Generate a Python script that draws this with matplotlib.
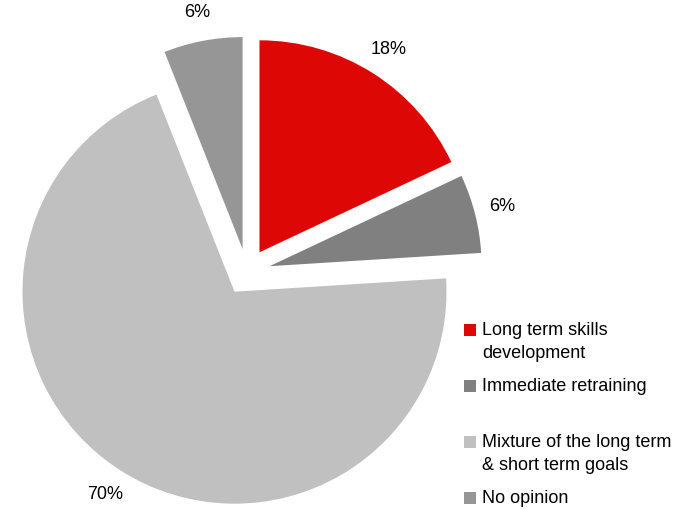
import matplotlib
matplotlib.use("Agg")
import matplotlib.pyplot as plt
from matplotlib.patches import Rectangle

plt.rcParams['font.family'] = ['Liberation Sans', 'DejaVu Sans']

categories = ["Long term skills\ndevelopment", "Immediate retraining",
              "Mixture of the long term\n& short term goals", "No opinion"]
values = [18, 6, 70, 6]
colors = ['#DD0806', '#808080', '#C0C0C0', '#969696']

W, H = 693, 509
fig = plt.figure(figsize=(W / 100, H / 100), dpi=100)
ax = fig.add_axes([0, 0, 1, 1])

cx, cy, R = 247, 272, 212
explode = [0.11] * len(values)
wedges, texts, autotexts = ax.pie(
    values, colors=colors, startangle=90, counterclock=False,
    explode=explode, autopct='%d%%', pctdistance=1.135,
    wedgeprops=dict(linewidth=0), textprops=dict(fontsize=13, color='#000000'))

ax.set_aspect('auto')
ax.set_xlim(-cx / R, (W - cx) / R)
ax.set_ylim(-(H - cy) / R, cy / R)
ax.axis('off')

# legend (drawn manually to match spacing)
legend_rows = [330, 386, 442, 498]  # square centers in pixels from top
for cat, col, yc in zip(categories, colors, legend_rows):
    fig.patches.append(Rectangle((464 / W, 1 - (yc + 6) / H), 12 / W, 12 / H,
                                 transform=fig.transFigure, facecolor=col,
                                 edgecolor='none'))
    fig.text(482 / W, 1 - (yc - 8) / H, cat, ha='left', va='top',
             fontsize=13, linespacing=1.5, color='#000000')

fig.savefig('out.png', dpi=100)
